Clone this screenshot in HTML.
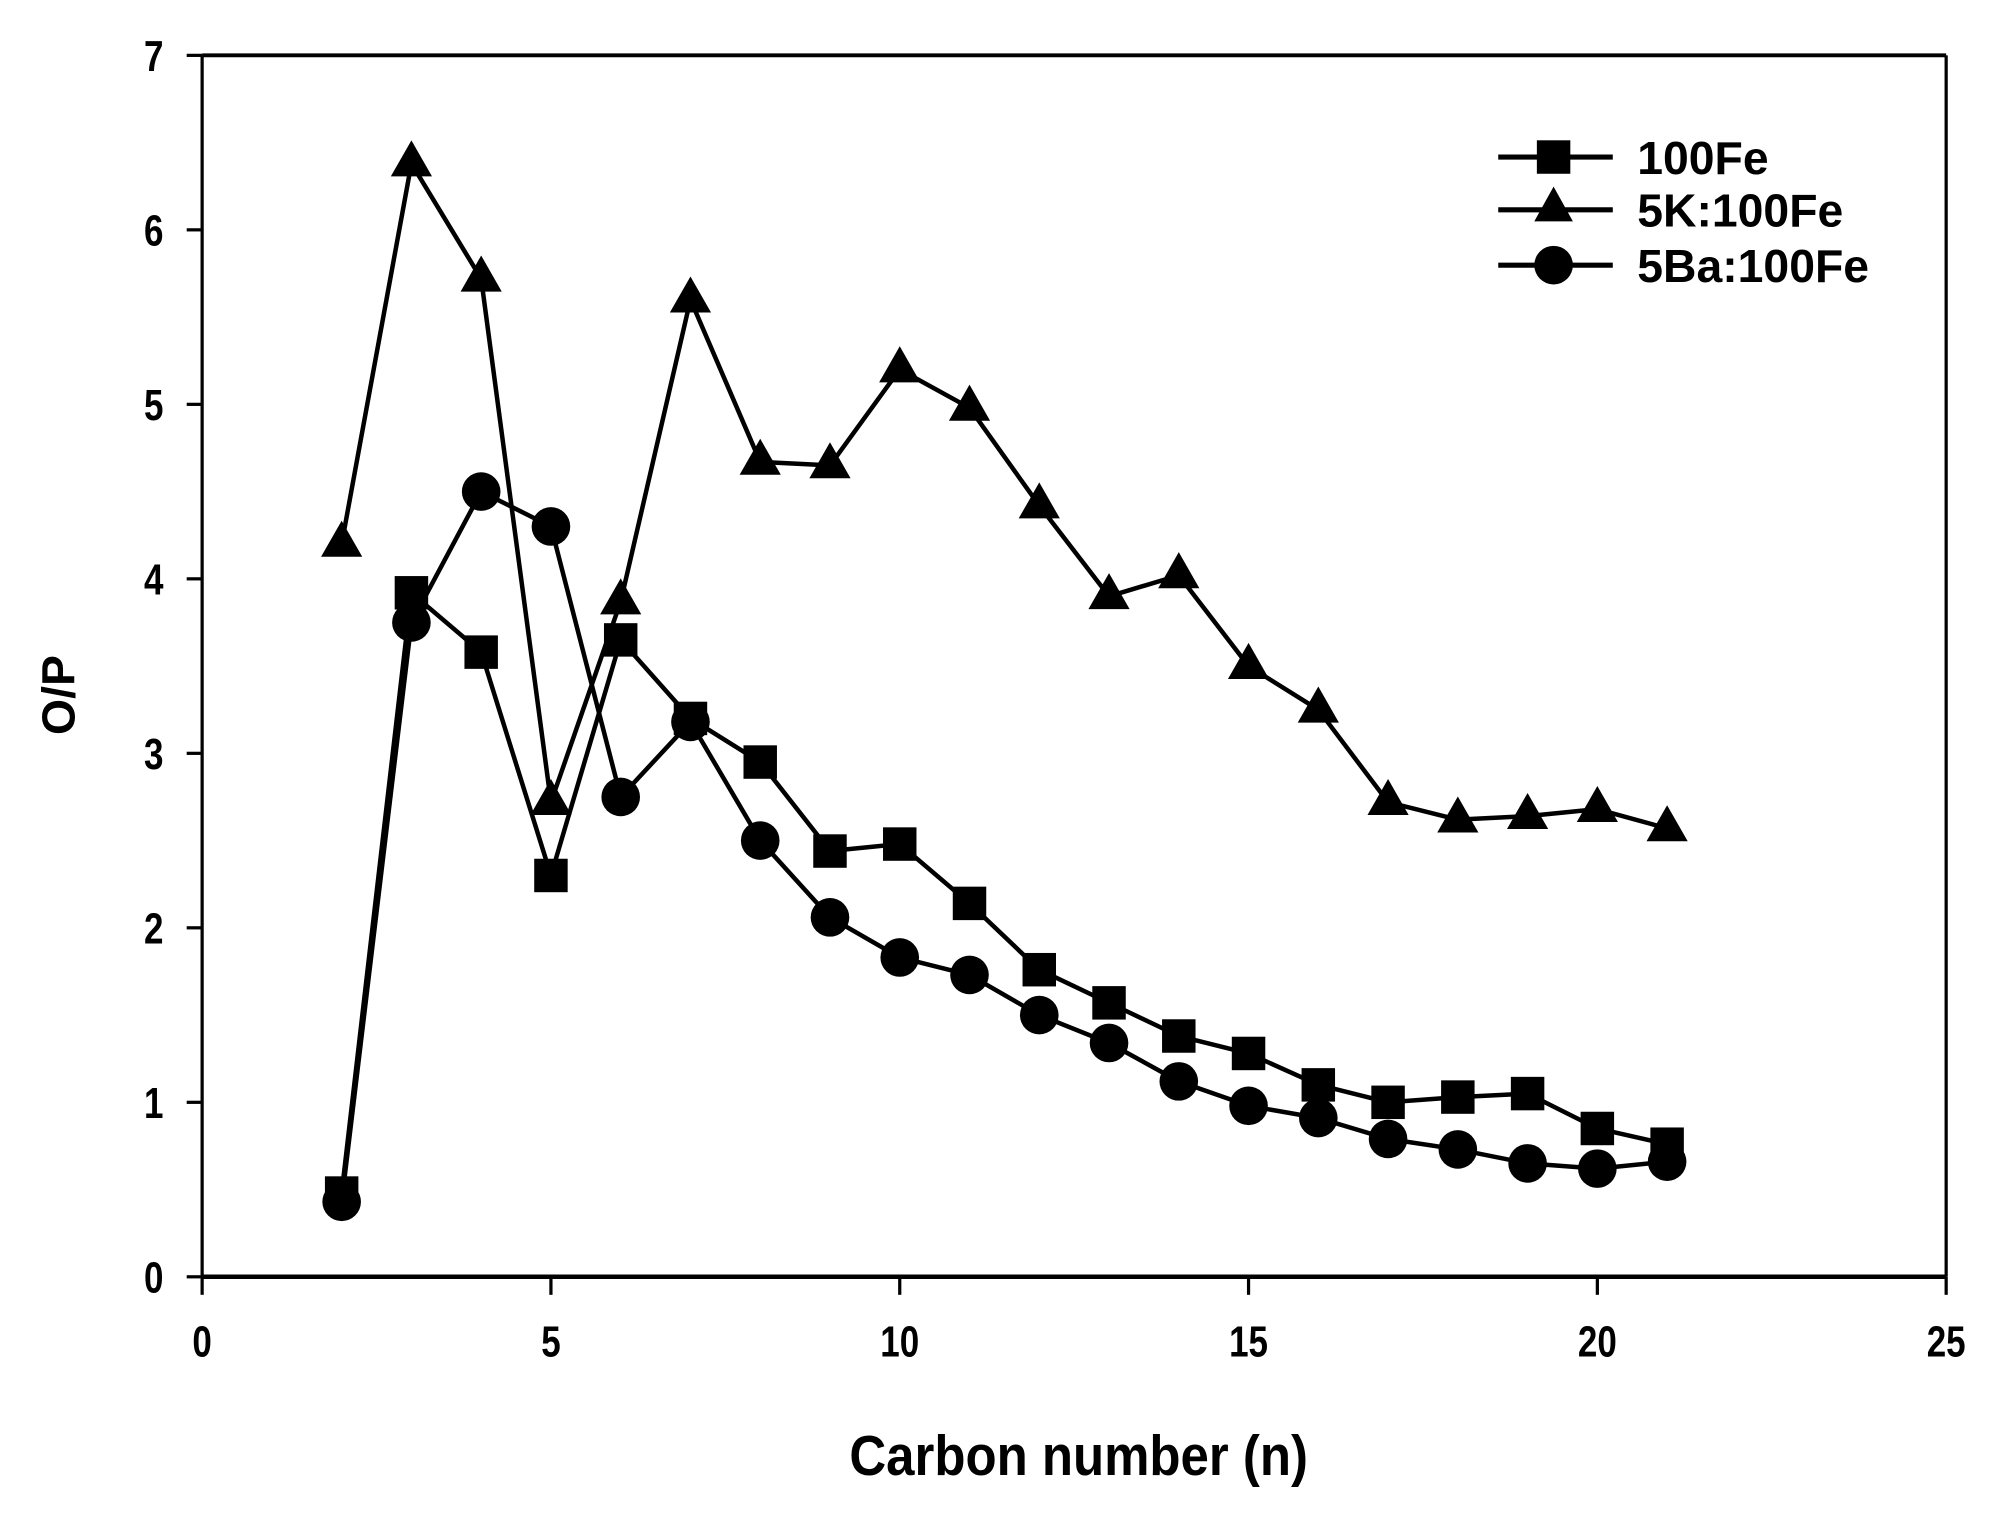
<!DOCTYPE html>
<html><head><meta charset="utf-8"><style>html,body{margin:0;padding:0;background:#fff}svg{display:block}</style></head>
<body>
<svg width="2008" height="1522" viewBox="0 0 1560 1182.5" xmlns="http://www.w3.org/2000/svg" font-family="Liberation Sans, Arial, sans-serif" font-weight="bold">
<rect width="1560" height="1183" fill="#fff"/>
<g stroke="#000" stroke-width="2.5" fill="none">
<line x1="157" y1="43" x2="1512" y2="43" stroke-width="3"/>
<line x1="157" y1="992" x2="1512" y2="992" stroke-width="3.5"/>
<line x1="157" y1="43" x2="157" y2="992"/>
<line x1="1512" y1="43" x2="1512" y2="992"/>
</g>
<g id="ticks" stroke="#000" stroke-width="2.5"></g>
<g id="tl" font-size="34" fill="#000"></g>
<g id="series"></g>
<text x="0" y="0" font-size="44" text-anchor="middle" fill="#000" transform="translate(838,1146) scale(0.9,1)">Carbon number (n)</text>
<text transform="translate(58,540) rotate(-90)" font-size="36" text-anchor="middle" fill="#000">O/P</text>
<g stroke="#000" stroke-width="4">
<line x1="1164" y1="122" x2="1253" y2="122"/>
<line x1="1164" y1="163" x2="1253" y2="163"/>
<line x1="1164" y1="206" x2="1253" y2="206"/>
</g>
<rect x="1194" y="109" width="26" height="26" fill="#000"/>
<polygon points="1207,145 1192,172 1222,172" fill="#000"/>
<circle cx="1207" cy="206" r="15" fill="#000"/>
<g font-size="36" fill="#000">
<text x="1272" y="135">100Fe</text>
<text x="1272" y="176">5K:100Fe</text>
<text x="1272" y="219">5Ba:100Fe</text>
</g>
</svg>
<script>
const NS="http://www.w3.org/2000/svg";
const X=v=>157+v*54.2, Y=v=>992-v*135.57;
const tk=document.getElementById('ticks'), tl=document.getElementById('tl'), sg=document.getElementById('series');
function el(p,n,a,t){const e=document.createElementNS(NS,n);for(const k in a)e.setAttribute(k,a[k]);if(t!==undefined)e.textContent=t;p.appendChild(e);return e;}
for(let v=0;v<=25;v+=5){el(tk,'line',{x1:X(v),y1:992,x2:X(v),y2:1006});el(tl,'text',{transform:`translate(${X(v)},1054) scale(0.8,1)`,'text-anchor':'middle'},v);}
for(let v=0;v<=7;v++){el(tk,'line',{x1:145,y1:Y(v),x2:157,y2:Y(v)});el(tl,'text',{transform:`translate(127,${Y(v)+12}) scale(0.8,1)`,'text-anchor':'end'},v);}
const sq=[0.48,3.92,3.58,2.3,3.65,3.2,2.95,2.44,2.48,2.14,1.76,1.57,1.38,1.28,1.1,1.0,1.03,1.05,0.85,0.76];
const tr=[4.2,6.38,5.72,2.72,3.87,5.6,4.67,4.65,5.2,4.98,4.42,3.9,4.02,3.5,3.25,2.72,2.62,2.64,2.68,2.57];
const ci=[0.43,3.75,4.5,4.3,2.75,3.18,2.5,2.06,1.83,1.73,1.5,1.34,1.12,0.98,0.91,0.79,0.73,0.65,0.62,0.66];
function line(d){el(sg,'polyline',{points:d.map((v,i)=>X(i+2)+','+Y(v)).join(' '),fill:'none',stroke:'#000','stroke-width':3.5,'stroke-linejoin':'round'});}
line(sq);line(tr);line(ci);
sq.forEach((v,i)=>el(sg,'rect',{x:X(i+2)-13,y:Y(v)-13,width:26,height:26,fill:'#000'}));
tr.forEach((v,i)=>{const x=X(i+2),y=Y(v);el(sg,'polygon',{points:`${x},${y-18} ${x-16},${y+10} ${x+16},${y+10}`,fill:'#000'});});
ci.forEach((v,i)=>el(sg,'circle',{cx:X(i+2),cy:Y(v),r:15,fill:'#000'}));
</script>
</body></html>
